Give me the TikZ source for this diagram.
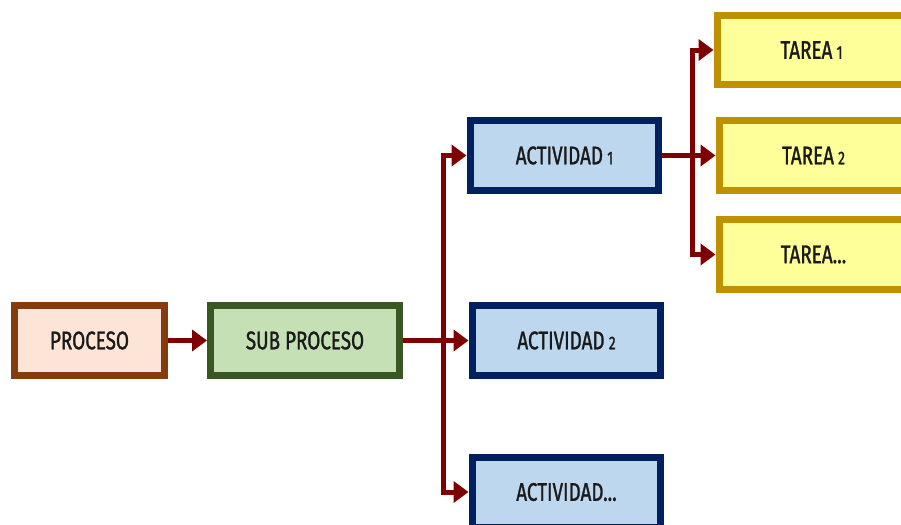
\documentclass[tikz,border=0pt]{standalone}
\usepackage{fontspec}
\setmainfont{Fira Sans}[FakeStretch=0.74,FakeBold=1.2]
\usepackage{tikz}
\usetikzlibrary{arrows.meta}
\definecolor{rellenoproceso}{HTML}{FCE4D6}
\definecolor{bordeproceso}{HTML}{843C0C}
\definecolor{rellenosub}{HTML}{C5E0B4}
\definecolor{bordesub}{HTML}{385723}
\definecolor{rellenoact}{HTML}{BDD7EE}
\definecolor{bordeact}{HTML}{002060}
\definecolor{rellenotarea}{HTML}{FFFF99}
\definecolor{bordetarea}{HTML}{BF9000}
\definecolor{flechaoscura}{HTML}{7F0000}
\definecolor{textocaja}{HTML}{1A1A1A}
\newcommand{\cifra}[1]{\,{\fontsize{10.5}{12}\selectfont #1}}
\tikzset{
	caja/.style={draw,line width=0.14cm,minimum width=3.78cm,minimum height=1.4cm,inner sep=0pt,
		font=\fontsize{14.5}{17}\selectfont,text=textocaja},
	flecha/.style={color=flechaoscura,line width=0.1cm,-{Triangle[length=0.3cm,width=0.42cm]}}
}

\begin{document}
\begin{tikzpicture}[x=0.02cm,y=-0.02cm]
	\useasboundingbox (0,0) rectangle (901,524);
	\clip (0,0) rectangle (901,524);
	
	\node[caja,draw=bordeproceso,fill=rellenoproceso,minimum width=3cm] (proceso) at (89.5,340.5) {PROCESO};
	\node[caja,draw=bordesub,fill=rellenosub] (subproceso) at (305,340.5) {SUB PROCESO};
	
	\node[caja,draw=bordeact,fill=rellenoact] (act1) at (564.5,155.5) {ACTIVIDAD\cifra{1}};
	\node[caja,draw=bordeact,fill=rellenoact] (act2) at (566.5,340.5) {ACTIVIDAD\cifra{2}};
	\node[caja,draw=bordeact,fill=rellenoact] (act3) at (566.5,492) {ACTIVIDAD...};
	
	\node[caja,draw=bordetarea,fill=rellenotarea] (tarea1) at (811.5,50) {TAREA\cifra{1}};
	\node[caja,draw=bordetarea,fill=rellenotarea] (tarea2) at (813.5,155.5) {TAREA\cifra{2}};
	\node[caja,draw=bordetarea,fill=rellenotarea] (tarea3) at (813.5,254.5) {TAREA...};
	
	\coordinate (busact) at (443,340.5);
	\coordinate (bustarea) at (692,155.5);
	
	\draw[flecha] (proceso) -- (subproceso);
	\draw[flecha] (subproceso.east) -- (act2.west);
	\draw[flecha] (subproceso.east) -- (busact) |- (act1.west);
	\draw[flecha] (subproceso.east) -- (busact) |- (act3.west);
	
	\draw[flecha] (act1.east) -- (tarea2.west);
	\draw[flecha] (act1.east) -- (bustarea) |- (tarea1.west);
	\draw[flecha] (act1.east) -- (bustarea) |- (tarea3.west);
\end{tikzpicture}
\end{document}
